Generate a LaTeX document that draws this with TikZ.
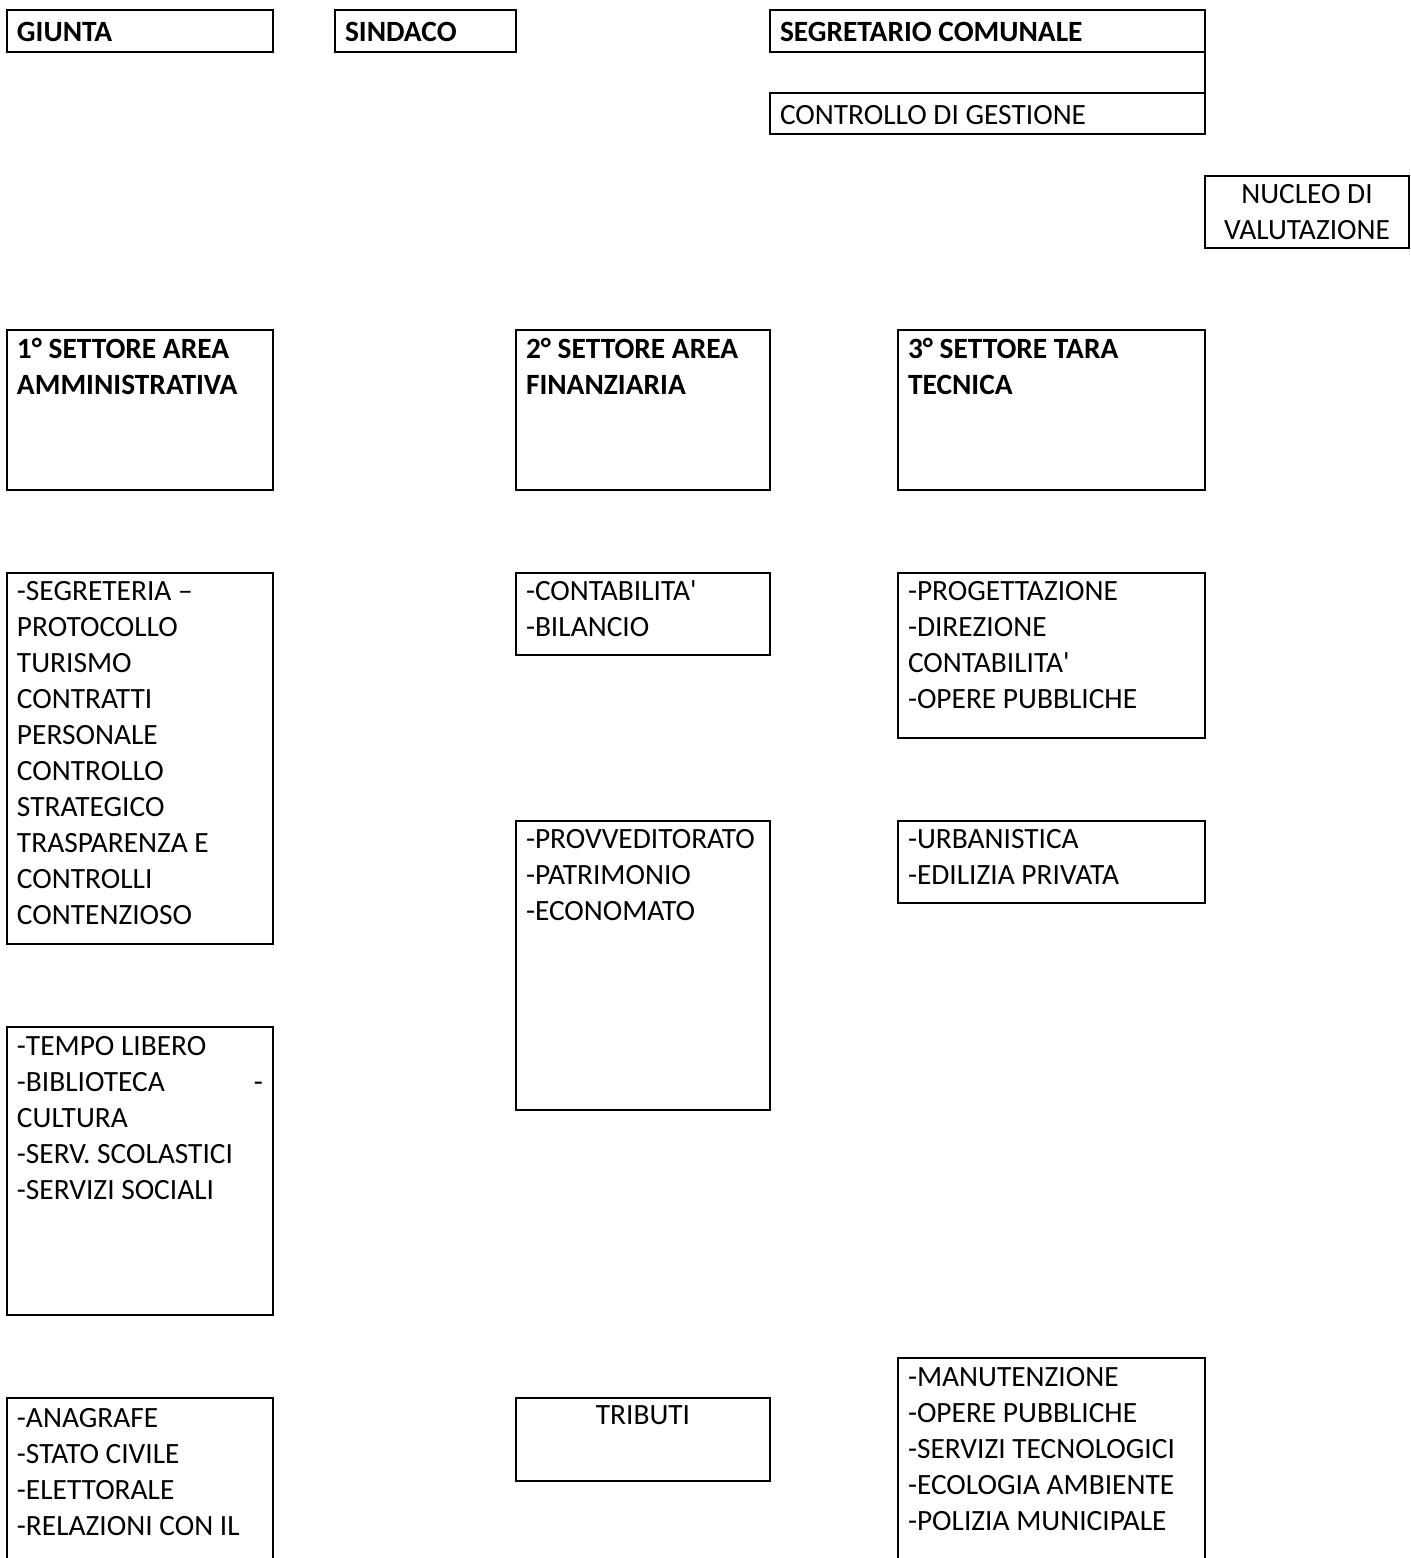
\documentclass[tikz,border=0pt]{standalone}
\usepackage{fontspec}
\setmainfont{Carlito}[Ligatures=TeXOff]
\usetikzlibrary{calc}
\begin{document}
\begin{tikzpicture}[x=0.5pt,y=-0.5pt,
  cell/.style={draw, line width=1pt, inner sep=0pt, outer sep=0pt, anchor=north west},
  txt/.style={inner sep=0pt, outer sep=0pt, anchor=north west, align=left,
    font=\fontsize{14.7}{18}\selectfont},
  ctxt/.style={txt, anchor=north, align=center},
  btxt/.style={txt, font=\fontsize{14.7}{18}\selectfont\bfseries}]
\useasboundingbox (0,0) rectangle (1411,1558);
\clip (0,0) rectangle (1411,1558);
% top row
\node[cell, minimum width=133pt, minimum height=21pt] (giunta) at (7,10) {};
\node[btxt] (giuntaT) at ($(giunta.north west)+(10,5.8)$) {\strut GIUNTA};
\node[cell, minimum width=90.5pt, minimum height=21pt] (sindaco) at (335,10) {};
\node[btxt] (sindacoT) at ($(sindaco.north west)+(10,5.8)$) {\strut SINDACO};
\node[cell, minimum width=217.5pt, minimum height=21pt] (segr) at (770,10) {};
\node[btxt] (segrT) at ($(segr.north west)+(10,5.8)$) {\strut SEGRETARIO COMUNALE};
\node[cell, minimum width=217.5pt, minimum height=20.5pt] (contr) at (770,93) {};
\node[txt] (contrT) at ($(contr.north west)+(10,5.8)$) {\strut CONTROLLO DI GESTIONE};
\draw[line width=1pt] (segr.south east) -- (contr.north east);
\node[cell, minimum width=102pt, minimum height=36pt] (nucleo) at (1205,176) {};
\node[ctxt] (nucleoT) at ($(nucleo.north)+(0,1.8)$) {\strut NUCLEO DI\\VALUTAZIONE};
% sector titles
\node[cell, minimum width=133pt, minimum height=80pt] (s1) at (7,330) {};
\node[btxt] (s1T) at ($(s1.north west)+(10,2.8)$) {\strut 1° SETTORE AREA\\AMMINISTRATIVA};
\node[cell, minimum width=127pt, minimum height=80pt] (s2) at (516,330) {};
\node[btxt] (s2T) at ($(s2.north west)+(10,2.8)$) {\strut 2° SETTORE AREA\\FINANZIARIA};
\node[cell, minimum width=153.5pt, minimum height=80pt] (s3) at (898,330) {};
\node[btxt] (s3T) at ($(s3.north west)+(10,2.8)$) {\strut 3° SETTORE TARA\\TECNICA};
% second row
\node[cell, minimum width=133pt, minimum height=185.5pt] (l1) at (7,573) {};
\node[txt] (l1T) at ($(l1.north west)+(10,1.8)$) {\strut -SEGRETERIA –\\PROTOCOLLO\\TURISMO\\CONTRATTI\\PERSONALE\\CONTROLLO\\STRATEGICO\\TRASPARENZA E\\CONTROLLI\\CONTENZIOSO};
\node[cell, minimum width=127pt, minimum height=41pt] (l2) at (516,573) {};
\node[txt] (l2T) at ($(l2.north west)+(10,1.8)$) {\strut -CONTABILITA'\\-BILANCIO};
\node[cell, minimum width=153.5pt, minimum height=82.5pt] (l3) at (898,573) {};
\node[txt] (l3T) at ($(l3.north west)+(10,1.8)$) {\strut -PROGETTAZIONE\\-DIREZIONE\\CONTABILITA'\\-OPERE PUBBLICHE};
% third row
\node[cell, minimum width=127pt, minimum height=144.5pt] (m2) at (516,821) {};
\node[txt] (m2T) at ($(m2.north west)+(10,1.8)$) {\strut -PROVVEDITORATO\\-PATRIMONIO\\-ECONOMATO};
\node[cell, minimum width=153.5pt, minimum height=41pt] (m3) at (898,821) {};
\node[txt] (m3T) at ($(m3.north west)+(10,1.8)$) {\strut -URBANISTICA\\-EDILIZIA PRIVATA};
\node[cell, minimum width=133pt, minimum height=144pt] (t1) at (7,1027) {};
\node[txt] (t1T) at ($(t1.north west)+(10,2.8)$) {\strut -TEMPO LIBERO\\\makebox[123pt][l]{-BIBLIOTECA\hfill-}\\CULTURA\\-SERV. SCOLASTICI\\-SERVIZI SOCIALI};
% bottom row (cut off by page edge)
\node[cell, minimum width=133pt, minimum height=100pt] (b1) at (7,1398) {};
\node[txt] (b1T) at ($(b1.north west)+(10,3.8)$) {\strut -ANAGRAFE\\-STATO CIVILE\\-ELETTORALE\\-RELAZIONI CON IL};
\node[cell, minimum width=127pt, minimum height=41.5pt] (b2) at (516,1398) {};
\node[ctxt] (b2T) at ($(b2.north)+(0,1.5)$) {\strut TRIBUTI};
\node[cell, minimum width=153.5pt, minimum height=120pt] (b3) at (898,1358) {};
\node[txt] (b3T) at ($(b3.north west)+(10,2.8)$) {\strut -MANUTENZIONE\\-OPERE PUBBLICHE\\-SERVIZI TECNOLOGICI\\-ECOLOGIA AMBIENTE\\-POLIZIA MUNICIPALE};
\end{tikzpicture}
\end{document}
